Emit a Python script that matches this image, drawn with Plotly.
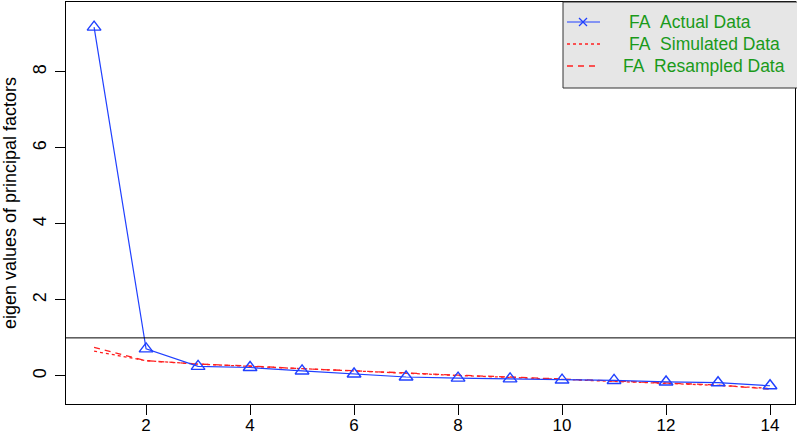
import plotly.graph_objects as go

factors = list(range(1, 15))
actual = [9.18, 0.71, 0.25, 0.22, 0.13, 0.05, -0.03, -0.06, -0.08, -0.11, -0.12, -0.16, -0.18, -0.26]
simulated = [0.65, 0.40, 0.31, 0.25, 0.18, 0.12, 0.06, 0.01, -0.04, -0.09, -0.14, -0.19, -0.25, -0.33]
resampled = [0.75, 0.40, 0.31, 0.26, 0.19, 0.13, 0.07, 0.02, -0.03, -0.08, -0.13, -0.18, -0.24, -0.35]
legend_labels = ["FA&nbsp;&nbsp;Actual Data", "FA&nbsp;&nbsp;Simulated Data", "FA&nbsp;&nbsp;Resampled Data"]
x_ticks = [2, 4, 6, 8, 10, 12, 14]
y_ticks = [0, 2, 4, 6, 8]

FONT = "Liberation Sans, Arial, sans-serif"
fig = go.Figure()
fig.add_trace(go.Scatter(x=factors, y=simulated, mode="lines",
                         line=dict(color="#FF2020", width=1.3, dash="dot"), showlegend=False))
fig.add_trace(go.Scatter(x=factors, y=resampled, mode="lines",
                         line=dict(color="#FF2020", width=1.3, dash="6px,5px"), showlegend=False))
fig.add_trace(go.Scatter(x=factors, y=actual, mode="lines+markers",
                         line=dict(color="#2040FF", width=1.2),
                         marker=dict(symbol="triangle-up-open", size=12, color="#2040FF",
                                     line=dict(width=1.4, color="#2040FF")),
                         showlegend=False))

# horizontal reference line at 1
fig.add_shape(type="line", xref="paper", x0=0, x1=1, yref="y", y0=1, y1=1,
              line=dict(color="black", width=1))

W, L, R, T, B = 797, 66, 795, 2, 404
def px(x):
    return (x - L) / (R - L)
def py(y):
    return (B - y) / (B - T)

# legend box
fig.add_shape(type="rect", xref="paper", yref="paper", x0=px(563), x1=px(800), y0=py(88), y1=py(2),
              fillcolor="#E6E6E6", line=dict(color="#333333", width=1), layer="above")
rows = [22, 44, 66]
styles = [dict(color="#2040FF", width=1.2), dict(color="#FF2020", width=1.3, dash="dot"),
          dict(color="#FF2020", width=1.3, dash="6px,5px")]
text_x = [627, 627, 621]
for r, st, lab, tx in zip(rows, styles, legend_labels, text_x):
    fig.add_shape(type="line", xref="paper", yref="paper", x0=px(567), x1=px(600), y0=py(r), y1=py(r),
                  line=st, layer="above")
    fig.add_annotation(xref="paper", yref="paper", x=px(tx), y=py(r), text=lab, showarrow=False,
                       xanchor="left", yanchor="middle", font=dict(family=FONT, size=17.5, color="#1A9A1A"))
fig.add_shape(type="line", xref="paper", yref="paper", x0=px(579), x1=px(587), y0=py(18), y1=py(26),
              line=dict(color="#2040FF", width=1.2), layer="above")
fig.add_shape(type="line", xref="paper", yref="paper", x0=px(579), x1=px(587), y0=py(26), y1=py(18),
              line=dict(color="#2040FF", width=1.2), layer="above")

fig.update_layout(
    width=797, height=437,
    margin=dict(l=L, r=W - R, t=T, b=437 - B),
    paper_bgcolor="white", plot_bgcolor="white",
    font=dict(family=FONT, size=18, color="black"),
    showlegend=False,
)
fig.update_xaxes(range=[0.46, 14.48], tickvals=x_ticks, ticks="outside", ticklen=10, tickcolor="black",
                 showgrid=False, zeroline=False, showline=True, linecolor="black", linewidth=1, mirror=True,
                 tickfont=dict(size=17), ticklabelstandoff=-4, automargin=False)
fig.update_yaxes(range=[-0.74, 9.84], tickvals=y_ticks, ticks="outside", ticklen=10, tickcolor="black",
                 tickangle=-90, showgrid=False, zeroline=False, showline=True, linecolor="black",
                 linewidth=1, mirror=True, tickfont=dict(size=18), ticklabelstandoff=2, automargin=False,
                 title=dict(text="eigen values of principal factors", font=dict(size=18), standoff=12))

fig.write_html("out.html", config={"displayModeBar": False},
               post_script="document.body.style.margin='0';document.body.style.overflow='hidden';")
